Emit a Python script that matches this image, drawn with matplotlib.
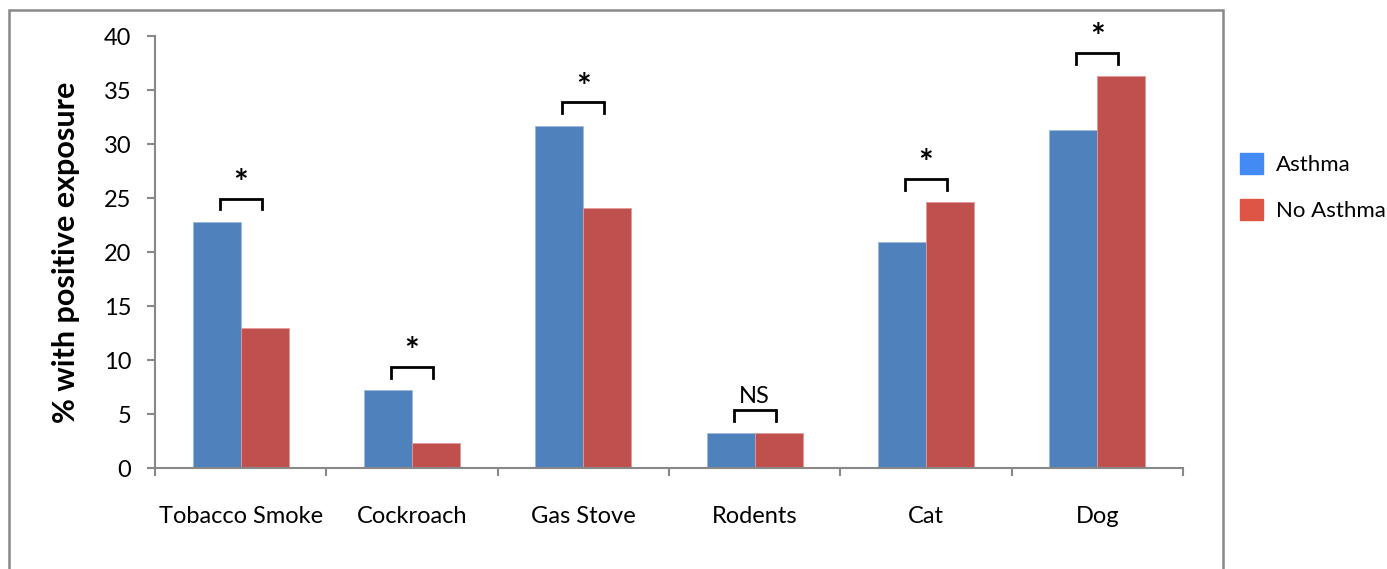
import numpy as np
import matplotlib.pyplot as plt
from matplotlib.patches import Patch, Rectangle

plt.rcParams['font.family'] = ['Lato', 'DejaVu Sans']

categories = ['Tobacco Smoke', 'Cockroach', 'Gas Stove', 'Rodents', 'Cat', 'Dog']
asthma = [22.8, 7.2, 31.7, 3.2, 20.9, 31.3]
no_asthma = [13.0, 2.3, 24.1, 3.2, 24.6, 36.3]
signif = ['*', '*', '*', 'NS', '*', '*']

bar_blue = '#4F81BD'
bar_red = '#C0504D'
leg_blue = '#448AF5'
leg_red = '#DE5546'
grey = '#888888'

fig = plt.figure(figsize=(13.87, 5.69), dpi=100)
ax = fig.add_axes([0.1118, 0.1775, 0.7411, 0.7592])

x = np.arange(len(categories))
w = 0.28
ax.bar(x - w / 2, asthma, w, color=bar_blue, edgecolor='#9fb8dc', linewidth=0.6)
ax.bar(x + w / 2, no_asthma, w, color=bar_red, edgecolor='#e09a98', linewidth=0.6)

# significance brackets
for i in range(len(categories)):
    top = max(asthma[i], no_asthma[i]) + 2.15
    ax.plot([i - 0.122, i - 0.122, i + 0.122, i + 0.122],
            [top - 1.0, top, top, top - 1.0], color='black', lw=2.0,
            solid_joinstyle='miter', clip_on=False)
    if signif[i] == '*':
        ax.text(i, top - 0.1, '*', ha='center', va='bottom', fontsize=25,
                fontweight='bold')
    else:
        ax.text(i, top + 0.3, signif[i], ha='center', va='bottom', fontsize=17)

ax.set_xlim(-0.5, len(categories) - 0.5)
ax.set_ylim(0, 40)
ax.set_yticks(range(0, 41, 5))
ax.set_xticks(x)
ax.set_xticklabels(categories, fontsize=17)
ax.set_xticks(np.arange(-0.5, len(categories), 1), minor=True)
ax.tick_params(axis='x', which='major', length=0, pad=27)
ax.tick_params(axis='x', which='minor', length=6, width=1.5, color=grey)
ax.tick_params(axis='y', labelsize=17, length=6, width=1.5, color=grey, pad=11)

for s in ['top', 'right']:
    ax.spines[s].set_visible(False)
for s in ['left', 'bottom']:
    ax.spines[s].set_color(grey)
    ax.spines[s].set_linewidth(1.5)

ax.set_ylabel('% with positive exposure', fontsize=22, fontweight='bold',
              labelpad=17)

handles = [Patch(color=leg_blue, label='Asthma'),
           Patch(color=leg_red, label='No Asthma')]
fig.legend(handles=handles, loc='upper left', bbox_to_anchor=(1240 / 1387, 1 - 153 / 569),
           frameon=False, fontsize=16, handlelength=1.05, handleheight=1.05,
           handletextpad=0.55, labelspacing=1.1, borderpad=0, borderaxespad=0)

# chart border (bottom runs off the image)
fig.patches.append(Rectangle((9 / 1387, -0.1), (1223 - 9) / 1387, 1.1 - 10 / 569,
                             transform=fig.transFigure, fill=False,
                             edgecolor=grey, linewidth=1.8))

fig.savefig('out.png', dpi=100)
